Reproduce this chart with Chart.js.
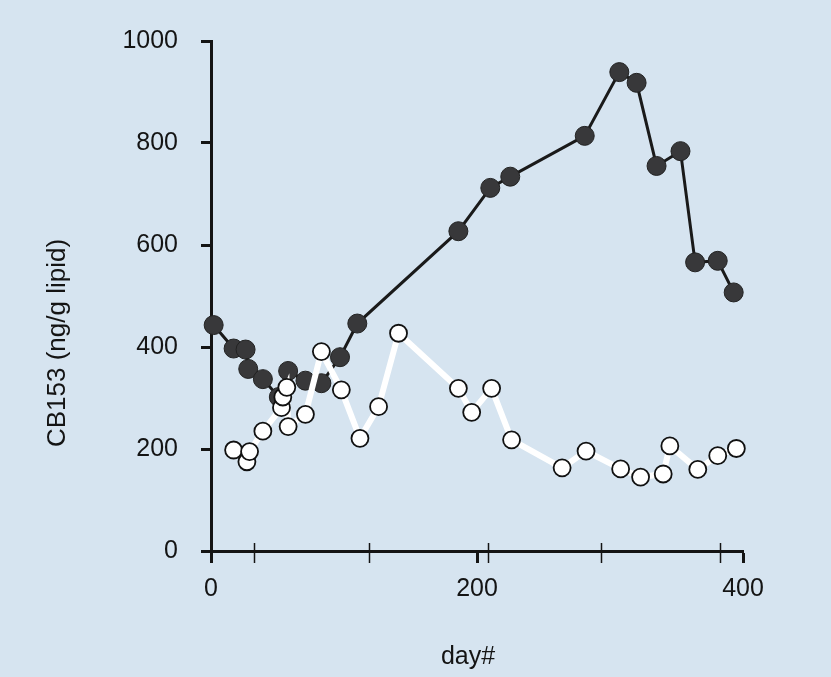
<!DOCTYPE html>
<html>
<head>
<meta charset="utf-8">
<title>CB153 over time</title>
<script src="https://cdn.jsdelivr.net/npm/chart.js@4"></script>
<style>
  html, body { margin: 0; padding: 0; background: #d6e4f0; }
  #wrap { width: 831px; height: 677px; position: relative; }
</style>
</head>
<body>
<div id="wrap"><canvas id="cb153"></canvas></div>
<script>
// dark series (filled dots)
const filledDays   = [2, 17, 26, 28, 39, 51, 58, 71, 83, 97, 110, 186, 210, 225, 281, 307, 320, 335, 353, 364, 381, 393];
const filledValues = [443, 397, 395, 357, 337, 302, 353, 334, 329, 380, 446, 627, 712, 734, 814, 939, 918, 755, 784, 566, 569, 507];

// light series (open dots)
const openDays   = [17, 27, 29, 39, 53, 54, 57, 58, 71, 83, 98, 112, 126, 141, 186, 196, 211, 226, 264, 282, 308, 323, 340, 345, 366, 381, 395];
const openValues = [198, 175, 195, 235, 281, 302, 321, 244, 268, 391, 316, 221, 283, 427, 319, 272, 319, 218, 163, 196, 161, 145, 151, 206, 160, 187, 201];

// axis ticks
const xMajorTicks = [0, 200, 400];
const xMinorTicks = [32, 119, 208, 293, 383];
const yTicks = [0, 200, 400, 600, 800, 1000];

const xTitle = 'day#';
const yTitle = 'CB153 (ng/g lipid)';

const FONT = "'Liberation Sans', Arial, Helvetica, sans-serif";
const INK = '#141414';

const toPoints = (xs, ys) => xs.map((x, i) => ({ x: x, y: ys[i] }));

// small ticks that cross the day axis
const minorTicks = {
    id: 'minorTicks',
    afterDraw(chart) {
        const ctx = chart.ctx;
        const xs = chart.scales.x;
        const y0 = chart.chartArea.bottom;
        ctx.save();
        ctx.strokeStyle = INK;
        ctx.lineWidth = 1.5;
        xMinorTicks.forEach(d => {
            const px = Math.round(xs.getPixelForValue(d)) + 0.5;
            ctx.beginPath();
            ctx.moveTo(px, y0 - 8);
            ctx.lineTo(px, y0 + 12);
            ctx.stroke();
        });
        ctx.restore();
    }
};

// axis titles
const axisTitles = {
    id: 'axisTitles',
    afterDraw(chart) {
        const ctx = chart.ctx;
        const area = chart.chartArea;
        ctx.save();
        ctx.fillStyle = INK;
        ctx.textAlign = 'center';
        ctx.textBaseline = 'middle';
        ctx.font = '25px ' + FONT;
        ctx.fillText(xTitle, area.left + 257, area.bottom + 106);
        ctx.translate(area.left - 153, area.bottom - 208);
        ctx.rotate(-Math.PI / 2);
        ctx.font = '26px ' + FONT;
        ctx.fillText(yTitle, 0, 0);
        ctx.restore();
    }
};

const ctx = document.getElementById('cb153').getContext('2d');
new Chart(ctx, {
    type: 'line',
    data: {
        datasets: [{
            // open dots are drawn on top
            data: toPoints(openDays, openValues),
            borderColor: '#ffffff',
            borderWidth: 6,
            pointRadius: 8.5,
            pointBackgroundColor: '#ffffff',
            pointBorderColor: '#111111',
            pointBorderWidth: 1.8,
            tension: 0,
            clip: false
        }, {
            data: toPoints(filledDays, filledValues),
            borderColor: '#1a1a1a',
            borderWidth: 3,
            pointRadius: 9.5,
            pointBackgroundColor: '#38383a',
            pointBorderColor: '#222222',
            pointBorderWidth: 1,
            tension: 0,
            clip: false
        }]
    },
    options: {
        responsive: true,
        maintainAspectRatio: false,
        animation: false,
        layout: { padding: { left: 0, top: 41, right: 88, bottom: 0 } },
        plugins: {
            legend: { display: false },
            tooltip: { enabled: false }
        },
        scales: {
            x: {
                type: 'linear',
                min: 0,
                max: 400,
                afterFit: (scale) => { scale.height = 126; },
                afterBuildTicks: (scale) => { scale.ticks = xMajorTicks.map(v => ({ value: v })); },
                border: { display: true, color: INK, width: 3 },
                grid: { drawOnChartArea: false, tickLength: 12, tickWidth: 3, tickColor: INK },
                ticks: {
                    color: INK,
                    padding: 11,
                    maxRotation: 0,
                    font: { family: FONT, size: 25 },
                    callback: (v) => String(v)
                }
            },
            y: {
                min: 0,
                max: 1000,
                afterFit: (scale) => { scale.width = 211; },
                afterBuildTicks: (scale) => { scale.ticks = yTicks.map(v => ({ value: v })); },
                border: { display: true, color: INK, width: 3 },
                grid: { drawOnChartArea: false, tickLength: 10, tickWidth: 3, tickColor: INK },
                ticks: {
                    color: INK,
                    padding: 23,
                    font: { family: FONT, size: 25 },
                    callback: (v) => String(v)
                }
            }
        }
    },
    plugins: [minorTicks, axisTitles]
});
</script>
</body>
</html>
